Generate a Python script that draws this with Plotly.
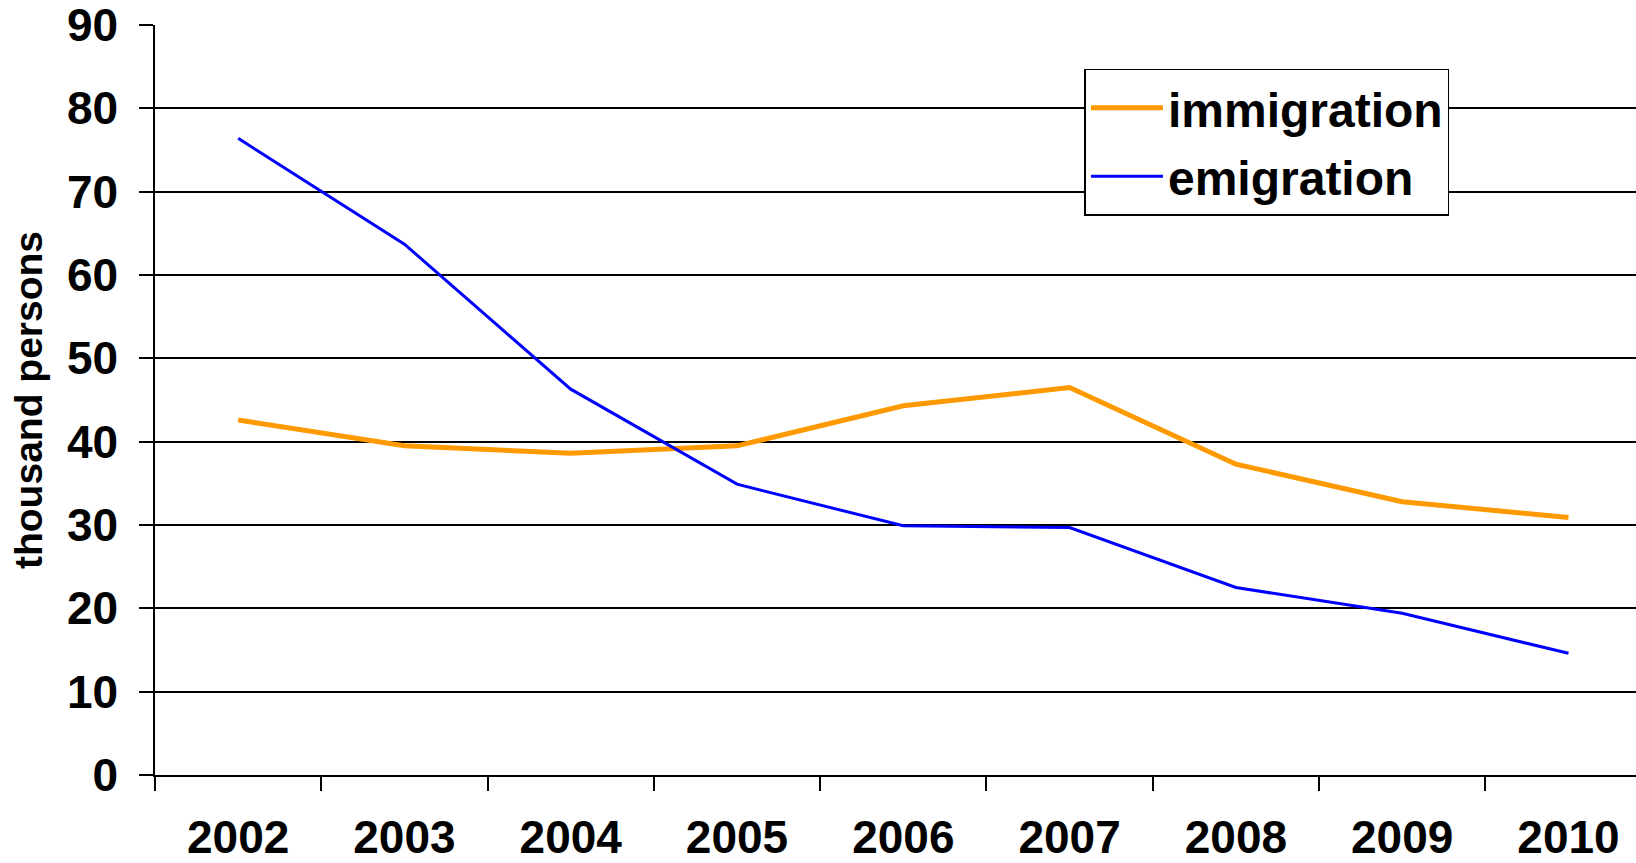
import plotly.graph_objects as go

years = ["2002", "2003", "2004", "2005", "2006", "2007", "2008", "2009", "2010"]
immigration = [42.6, 39.5, 38.6, 39.5, 44.3, 46.5, 37.3, 32.8, 30.9]
emigration = [76.4, 63.7, 46.3, 34.9, 29.9, 29.7, 22.5, 19.4, 14.6]

FONT = "Liberation Sans, Arial, sans-serif"

fig = go.Figure()
fig.add_trace(go.Scatter(x=years, y=immigration, name="immigration", mode="lines",
                         line=dict(color="#FF9900", width=5), legendgroup="a"))
fig.add_trace(go.Scatter(x=years, y=emigration, name="emigration", mode="lines",
                         line=dict(color="#0000FF", width=3), legendgroup="b"))

fig.update_layout(
    width=1636, height=863,
    margin=dict(l=155, r=0, t=24.5, b=87.7, autoexpand=False),
    paper_bgcolor="white", plot_bgcolor="white",
    font=dict(family=FONT, color="black", size=46),
    showlegend=True,
    legend=dict(
        x=0.6276, y=0.9418, xanchor="left", yanchor="top",
        bordercolor="black", borderwidth=1.5, bgcolor="white",
        font=dict(family=FONT, size=48, color="black", weight="bold"),
        tracegroupgap=3, itemwidth=72,
    ),
)
fig.update_xaxes(
    type="category", range=[-0.5, 8.406],
    showgrid=False, showline=True, linecolor="black", linewidth=1.5,
    ticks="outside", ticklen=14, tickwidth=1.5, tickcolor="black",
    tickson="boundaries", ticklabelstandoff=21,
    tickfont=dict(family=FONT, size=46, color="black", weight="bold"),
    zeroline=False, automargin=False,
)
fig.update_yaxes(
    range=[0, 90], dtick=10, tick0=0,
    showgrid=True, gridcolor="black", gridwidth=1.5,
    showline=True, linecolor="black", linewidth=1.5,
    ticks="outside", ticklen=14, tickwidth=1.5, tickcolor="black",
    ticklabelstandoff=12, ticklabeloverflow="allow",
    tickfont=dict(family=FONT, size=46, color="black", weight="bold"),
    zeroline=False, automargin=False,
    title=dict(text="thousand persons", standoff=12,
               font=dict(family=FONT, size=39, color="black", weight="bold")),
)

fig.write_html("out.html", config={"displayModeBar": False},
               post_script="document.body.style.margin='0';document.body.style.overflow='hidden';")
